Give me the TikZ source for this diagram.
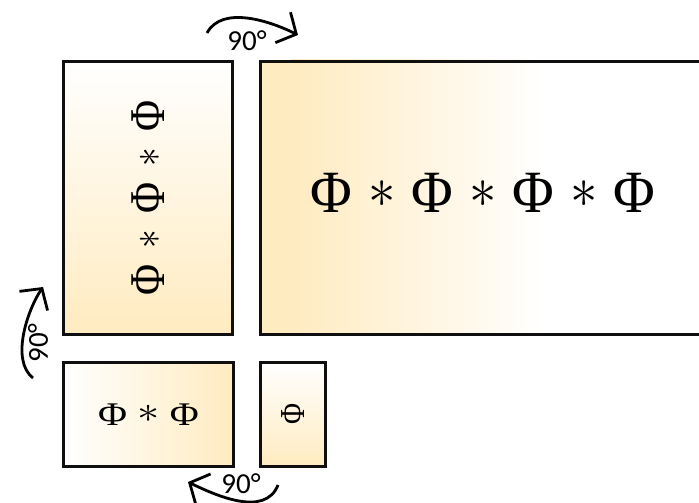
\documentclass[tikz,border=0pt]{standalone}
\usepackage{fontspec}
\newfontfamily\phifont{Liberation Serif}
\newfontfamily\lblfont{Carlito}
\usetikzlibrary{arrows.meta}
\definecolor{yel}{RGB}{255,235,192}
\definecolor{edge}{RGB}{15,15,15}
\tikzset{
  box/.style={draw=edge, line width=2.8pt, rectangle, inner sep=0pt},
  rotarrow/.style={draw=black, line width=2.8pt, -{Straight Barb[length=15pt,width=34pt]}},
  lbl/.style={font=\fontsize{29}{29}\selectfont\lblfont, inner sep=0pt},
  sym/.style={inner sep=0pt},
}
% #1 = space around, #2 = width of the asterisk box
\newcommand{\opgap}[2]{\hspace{#1}\raisebox{0.08em}{\resizebox{#2}{!}{$\ast$}}\hspace{#1}}
\begin{document}
\begin{tikzpicture}[x=1pt,y=-1pt]
\useasboundingbox (0,0) rectangle (699,503);
% shading of the large box
\fill[yel] (259,60) rectangle (292,333);
\shade[left color=yel, right color=white] (291,60) rectangle (545,333);
% boxes
\node[box, minimum width=501pt, minimum height=273pt, anchor=north west] (big) at (259,60) {};
\node[box, top color=white, bottom color=yel, minimum width=169pt, minimum height=273pt, anchor=north west] (tall) at (62,60) {};
\node[box, left color=white, right color=yel, minimum width=170pt, minimum height=104pt, anchor=north west] (two) at (62,361) {};
\node[box, top color=white, bottom color=yel, minimum width=65pt, minimum height=104pt, anchor=north west] (one) at (259,361) {};
% texts
\node[sym, font=\fontsize{60}{60}\selectfont\phifont, xscale=0.95] (tbig) at (483,193)
  {Φ\opgap{0.28em}{0.48em}Φ\opgap{0.28em}{0.48em}Φ\opgap{0.28em}{0.48em}Φ};
\node[sym, font=\fontsize{50}{50}\selectfont\phifont, rotate=90, xscale=0.85] (ttall) at (tall.center)
  {Φ\opgap{0.38em}{0.44em}Φ\opgap{0.38em}{0.44em}Φ};
\node[sym, font=\fontsize{33}{33}\selectfont\phifont, xscale=1.2] (ttwo) at (two.center)
  {Φ\opgap{0.26em}{0.56em}Φ};
\node[sym, font=\fontsize{35}{35}\selectfont\phifont, rotate=90, xscale=0.82] (tone) at (one.center) {Φ};
% rotation arrows
\coordinate (a1s) at (207,33);
\coordinate (a1e) at (298,35);
\draw[rotarrow] (a1s) .. controls (222,5) and (270,21) .. (a1e);
\node[lbl] (l1) at (247,41) {90°};
\coordinate (a2s) at (33,378);
\coordinate (a2e) at (43,287);
\draw[rotarrow] (a2s) .. controls (10,360) and (28,309) .. (a2e);
\node[lbl, rotate=90] (l2) at (38,343) {90°};
\coordinate (a3s) at (278,485);
\coordinate (a3e) at (188,482);
\draw[rotarrow] (a3s) .. controls (265,518) and (215,495) .. (a3e);
\node[lbl] (l3) at (241,484) {90°};
\end{tikzpicture}
\end{document}
